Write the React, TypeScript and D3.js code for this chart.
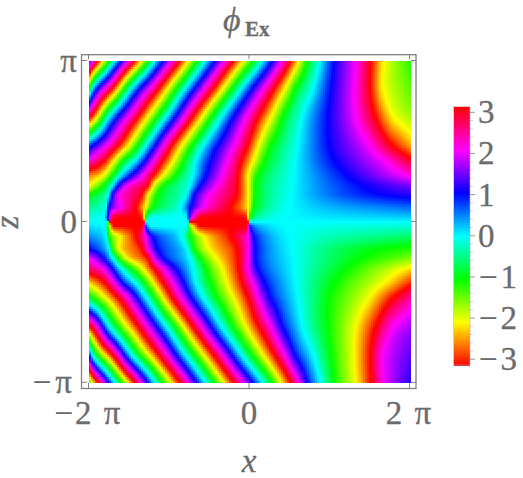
import React, { useEffect, useRef } from "react";
import * as d3 from "d3";

const PI = Math.PI;

// x and phase are in units of pi, zRows too
const zRows = [0, 0.027, 0.09, 0.164, 0.226, 0.29, 0.38, 0.48, 0.66, 0.83, 1];

const x00 = [-2, -1.77, -1.755, -1.315, -1.305, -0.755, -0.745, -0.005, 0.005, 2];
const p00 = [-4, -4, -3, -3, -2, -2, -1, -1, 0, 0];
const x03 = [-2, -1.81, -1.77, -1.74, -1.69, -1.35, -1.32, -1.3, -1.23, -0.78, -0.76, -0.71, -0.61, -0.05, -0.02, 0, 0.16, 0.45, 2];
const p03 = [-4.03, -4, -3.67, -3.33, -3, -3, -2.67, -2.33, -2, -2, -1.67, -1.33, -1, -1, -0.67, -0.33, -0.08, 0, 0.06];
const x09 = [-2, -1.79, -1.76, -1.61, -1.42, -1.3, -1.21, -0.86, -0.74, -0.57, -0.24, -0.02, 0.05, 0.51, 2];
const p09 = [-4.15, -4, -3.67, -3.33, -3, -2.67, -2.33, -2, -1.67, -1.33, -1, -0.67, -0.33, 0, 0.2];
const x16 = [-2, -1.76, -1.72, -1.63, -1.35, -1.27, -1.15, -0.79, -0.7, -0.51, -0.16, -0.02, 0.07, 0.52, 1.67, 2];
const p16 = [-4.33, -4, -3.67, -3.33, -3, -2.67, -2.33, -2, -1.67, -1.33, -1, -0.67, -0.33, 0, 0.33, 0.37];
const x23 = [-2, -1.82, -1.71, -1.64, -1.52, -1.27, -1.2, -1.07, -0.75, -0.62, -0.41, -0.15, -0.02, 0.07, 0.54, 1.38, 2];
const p23 = [-4.67, -4.33, -4, -3.67, -3.33, -3, -2.67, -2.33, -2, -1.67, -1.33, -1, -0.67, -0.33, 0, 0.33, 0.5];
const x29 = [-2, -1.88, -1.83, -1.71, -1.61, -1.48, -1.33, -1.2, -1.08, -0.92, -0.71, -0.55, -0.34, -0.14, -0.02, 0.1, 0.55, 1.2, 1.94, 2];
const p29 = [-4.85, -4.75, -4.67, -4.33, -4, -3.67, -3.33, -3, -2.67, -2.33, -2, -1.67, -1.33, -1, -0.67, -0.33, 0, 0.33, 0.67, 0.7];
const x38 = [-2, -1.81, -1.69, -1.58, -1.43, -1.08, -0.67, -0.1, 0.04, 0.19, 0.57, 1.05, 1.67, 2];
const p38 = [-5.3, -5, -4.67, -4.33, -4, -3, -2, -1, -0.67, -0.33, 0, 0.33, 0.67, 0.95];
const x48 = [-2, -1.63, -1.28, -0.96, -0.57, -0.02, 0.11, 0.27, 0.6, 0.98, 1.48, 1.77, 2];
const p48 = [-5.8, -5, -4, -3, -2, -1, -0.67, -0.33, 0, 0.33, 0.67, 1, 1.22];
const x66 = [-2, -1.97, -1.74, -1.38, -1.03, -0.7, -0.34, 0.12, 0.27, 0.42, 0.66, 0.97, 1.32, 1.56, 1.78, 2];
const p66 = [-7.1, -7, -6, -5, -4, -3, -2, -1, -0.67, -0.33, 0, 0.33, 0.67, 1, 1.33, 1.46];
const x83 = [-2, -1.96, -1.71, -1.47, -1.13, -0.8, -0.45, -0.1, 0.31, 0.44, 0.57, 0.79, 1.01, 1.3, 1.5, 1.66, 2];
const p83 = [-8.35, -8, -7, -6, -5, -4, -3, -2, -1, -0.67, -0.33, 0, 0.33, 0.67, 1, 1.33, 1.55];
const x100 = [-2, -1.89, -1.68, -1.43, -1.18, -0.87, -0.55, -0.2, 0.16, 0.51, 0.61, 0.72, 0.88, 1.05, 1.32, 1.51, 1.67, 2];
const p100 = [-9.6, -9, -8, -7, -6, -5, -4, -3, -2, -1, -0.67, -0.33, 0, 0.33, 0.67, 1, 1.33, 1.62];

const rowX = [x00, x03, x09, x16, x23, x29, x38, x48, x66, x83, x100];
const rowP = [p00, p03, p09, p16, p23, p29, p38, p48, p66, p83, p100];

const colorTicks = [3, 2, 1, 0, -1, -2, -3];
const xTicks = [
  { v: -2, label: "\u22122 \u03c0" },
  { v: 0, label: "0" },
  { v: 2, label: "2 \u03c0" },
];
const zTicks = [
  { v: 1, label: "\u03c0" },
  { v: 0, label: "0" },
  { v: -1, label: "\u2212\u03c0" },
];

const grey = "#6b6b6b";
const serif = "'Liberation Serif', serif";

// phase -> Mathematica style Hue
const hue = (phi: number) => {
  const h = ((phi + PI) * 180) / PI;
  return d3.hsl(((h % 360) + 360) % 360, 1, 0.5).formatHex();
};

// monotone cubic through the knots of one row, keeps the plateaus flat
function monotone(xs: number[], ys: number[]) {
  const n = xs.length;
  const s = d3.range(n - 1).map((i) => (ys[i + 1] - ys[i]) / (xs[i + 1] - xs[i]));
  const m = xs.map((_, i) => {
    if (i === 0) return s[0];
    if (i === n - 1) return s[n - 2];
    if (s[i - 1] * s[i] <= 0) return 0;
    const h0 = xs[i] - xs[i - 1];
    const h1 = xs[i + 1] - xs[i];
    return (3 * (h0 + h1)) / ((2 * h1 + h0) / s[i - 1] + (h1 + 2 * h0) / s[i]);
  });
  return (x: number) => {
    const hi = Math.min(Math.max(d3.bisectLeft(xs, x), 1), n - 1);
    const lo = hi - 1;
    const h = xs[hi] - xs[lo];
    const t = (x - xs[lo]) / h;
    const t2 = t * t;
    const t3 = t2 * t;
    return (
      (2 * t3 - 3 * t2 + 1) * ys[lo] +
      (t3 - 2 * t2 + t) * h * m[lo] +
      (-2 * t3 + 3 * t2) * ys[hi] +
      (t3 - t2) * h * m[hi]
    );
  };
}

const profiles = rowX.map((xs, i) => monotone(xs, rowP[i]));

function phaseAt(x: number, z: number) {
  const az = Math.min(Math.abs(z), 1);
  const hi = Math.min(Math.max(d3.bisectLeft(zRows, az), 1), zRows.length - 1);
  const lo = hi - 1;
  const dz = zRows[hi] - zRows[lo];
  const t = (az - zRows[lo]) / dz;
  const a = profiles[lo](x);
  const b = profiles[hi](x);
  let p = a + (b - a) * t;
  // away from the axis the phase is smooth, so bend between the rows
  if (lo >= 3) {
    const prev = lo - 1;
    const next = Math.min(hi + 1, zRows.length - 1);
    const ma = ((b - profiles[prev](x)) / (zRows[hi] - zRows[prev])) * dz;
    const mb = ((profiles[next](x) - a) / (zRows[next] - zRows[lo])) * dz;
    const t2 = t * t;
    const t3 = t2 * t;
    p = (2 * t3 - 3 * t2 + 1) * a + (t3 - 2 * t2 + t) * ma + (-2 * t3 + 3 * t2) * b + (t3 - t2) * mb;
  }
  // lower half mirrors the upper one with the opposite sign
  return (z < 0 ? -p : p) * PI;
}

export default function App() {
  const ref = useRef<SVGSVGElement>(null);

  useEffect(() => {
    const svg = d3.select(ref.current);
    svg.selectAll("*").remove();

    const x = d3.scaleLinear().domain([-2, 2]).range([88.5, 409.5]);
    const z = d3.scaleLinear().domain([-1, 1]).range([382.3, 60.5]);
    const c = d3.scaleLinear().domain([-PI, PI]).range([365, 106.5]);

    // heat map cells
    const step = 2;
    const cells: { px: number; py: number; fill: string }[] = [];
    for (const py of d3.range(60.5, 382.3, step)) {
      for (const px of d3.range(88.5, 409.5, step)) {
        const phi = phaseAt(x.invert(px + step / 2), z.invert(py + step / 2));
        cells.push({ px, py, fill: hue(phi) });
      }
    }
    svg.append("g")
      .attr("shape-rendering", "crispEdges")
      .selectAll("rect")
      .data(cells)
      .join("rect")
      .attr("x", (d) => d.px)
      .attr("y", (d) => d.py)
      .attr("width", step)
      .attr("height", step)
      .attr("fill", (d) => d.fill);

    // frame
    svg.append("rect")
      .attr("x", 81.5)
      .attr("y", 54.7)
      .attr("width", 334.5)
      .attr("height", 333.8)
      .attr("fill", "none")
      .attr("stroke", "#808080")
      .attr("stroke-width", 1.3);

    // ticks on the frame
    const tickG = svg.append("g").attr("stroke", "#808080").attr("stroke-width", 1);
    xTicks.forEach((t) => {
      tickG.append("line").attr("x1", x(t.v)).attr("x2", x(t.v)).attr("y1", 388.5).attr("y2", 383);
      tickG.append("line").attr("x1", x(t.v)).attr("x2", x(t.v)).attr("y1", 54.7).attr("y2", 59);
    });
    zTicks.forEach((t) => {
      tickG.append("line").attr("x1", 81.5).attr("x2", 87).attr("y1", z(t.v)).attr("y2", z(t.v));
      tickG.append("line").attr("x1", 416).attr("x2", 411).attr("y1", z(t.v)).attr("y2", z(t.v));
    });

    const text = (tx: number, ty: number, s: string) =>
      svg.append("text")
        .attr("x", tx)
        .attr("y", ty)
        .attr("fill", grey)
        .attr("stroke", grey)
        .attr("stroke-width", 0.3)
        .attr("font-family", serif)
        .attr("font-size", 33)
        .text(s);

    xTicks.forEach((t) => {
      text(x(t.v), 424, t.label)
        .attr("text-anchor", "middle")
        .attr("letter-spacing", t.v === 0 ? 0 : 2);
    });
    text(77, 72, zTicks[0].label).attr("text-anchor", "end");
    text(77, 233, zTicks[1].label).attr("text-anchor", "end");
    text(76, 393, zTicks[2].label).attr("text-anchor", "end").attr("letter-spacing", 4);

    text(249, 472, "x").attr("text-anchor", "middle").attr("font-style", "italic");
    text(0, 0, "z")
      .attr("text-anchor", "middle")
      .attr("font-style", "italic")
      .attr("transform", "translate(18,222) rotate(-90)");

    text(223, 31, "\u03d5").attr("font-style", "italic").attr("font-size", 34);
    text(245, 36, "Ex").attr("font-weight", "bold").attr("font-size", 21);

    // colour bar
    const bar = d3.range(106.5, 365, 1);
    svg.append("g")
      .attr("shape-rendering", "crispEdges")
      .selectAll("rect")
      .data(bar)
      .join("rect")
      .attr("x", 453.5)
      .attr("y", (d) => d)
      .attr("width", 16.5)
      .attr("height", 1.2)
      .attr("fill", (d) => hue(c.invert(d + 0.5)));
    svg.append("rect")
      .attr("x", 453.5)
      .attr("y", 106.5)
      .attr("width", 16.5)
      .attr("height", 258.5)
      .attr("fill", "none")
      .attr("stroke", "#b0b0b0")
      .attr("stroke-width", 0.6);

    d3.range(-15, 16).forEach((i) => {
      const major = i % 5 === 0;
      svg.append("line")
        .attr("x1", 470)
        .attr("x2", major ? 475 : 473)
        .attr("y1", c(i * 0.2))
        .attr("y2", c(i * 0.2))
        .attr("stroke", major ? "#808080" : "#c4c4c4")
        .attr("stroke-width", 0.8);
    });
    colorTicks.forEach((v) => {
      text(v < 0 ? 479 : 478, c(v) + 11, v < 0 ? "\u2212" + -v : String(v)).attr("letter-spacing", v < 0 ? 3 : 0);
    });
  }, []);

  return <svg ref={ref} width={523} height={478} style={{ position: "absolute", left: 0, top: 0, background: "#fff" }} />;
}
